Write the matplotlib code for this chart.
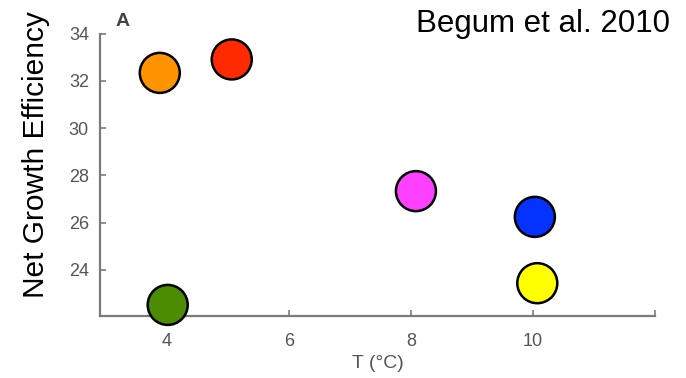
import matplotlib
matplotlib.use("Agg")
import matplotlib.pyplot as plt

# Net growth efficiency vs temperature
temps = [3.88, 5.06, 4.01, 8.08, 10.03, 10.07]
nge = [32.34, 32.91, 22.51, 27.33, 26.24, 23.43]
colors = ["#FF9300", "#FF2A00", "#4C8C00", "#FF40FF", "#0433FF", "#FFFF00"]
xticks = [4, 6, 8, 10, 12]
xtick_labels = ["4", "6", "8", "10", ""]
yticks = [24, 26, 28, 30, 32, 34]

plt.rcParams["font.family"] = ["Liberation Sans", "DejaVu Sans"]

fig = plt.figure(figsize=(6.86, 3.78), dpi=100)
ax = fig.add_axes([100 / 686, 1 - 316 / 378, 555 / 686, (316 - 33.7) / 378])

ax.scatter(temps, nge, s=830, c=colors, edgecolors="black", linewidths=1.8,
           zorder=3, clip_on=False)

ax.set_xlim(2.9, 12)
ax.set_ylim(22.04, 34)
ax.set_xticks(xticks)
ax.set_xticklabels(xtick_labels)
ax.set_yticks(yticks)

gray = "#7a7a7a"
for side in ("top", "right"):
    ax.spines[side].set_visible(False)
for side in ("left", "bottom"):
    ax.spines[side].set_color(gray)
    ax.spines[side].set_linewidth(1.6)
ax.tick_params(direction="in", length=4, width=1.2, color=gray,
               labelcolor="#555555", labelsize=13)
ax.tick_params(axis="y", pad=8)
ax.tick_params(axis="x", pad=12)

ax.set_xlabel("T (°C)", fontsize=14, color="#555555", labelpad=4)
fig.text(0.052, 0.59, "Net Growth Efficiency", rotation=90, fontsize=21.5,
         ha="center", va="center", color="black")
fig.text(123 / 686, 1 - 22 / 378, "A", fontsize=14, fontweight="bold",
         ha="center", va="center", color="#444444")
fig.text(0.977, 0.937, "Begum et al. 2010", fontsize=22.5, ha="right",
         va="center", color="black")

fig.savefig("out.png", dpi=100)
